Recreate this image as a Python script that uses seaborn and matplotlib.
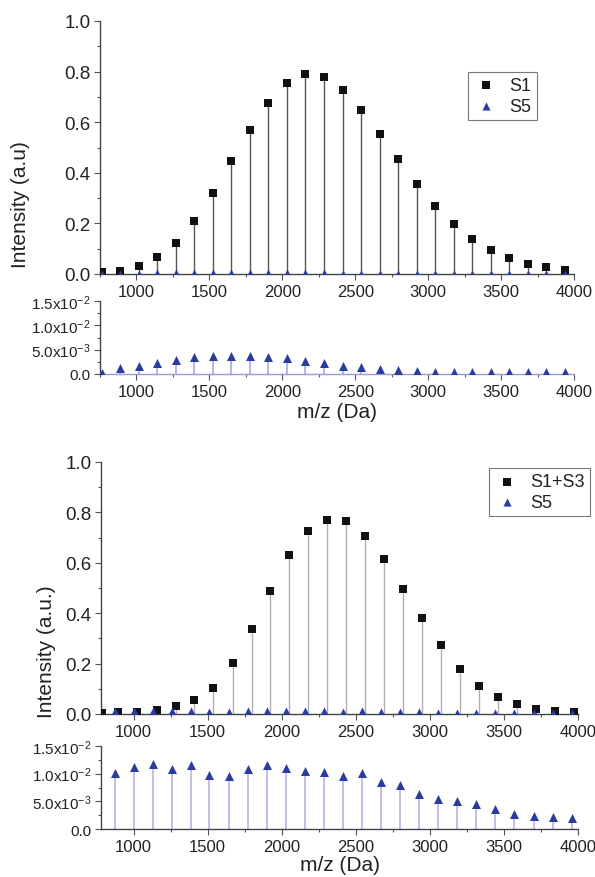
import matplotlib
matplotlib.use("Agg")
import matplotlib.pyplot as plt
import seaborn as sns
from matplotlib.ticker import MultipleLocator, AutoMinorLocator, FixedLocator, FixedFormatter

# panel (a): S1 vs S5
mz_a = [762, 889, 1016, 1143, 1270, 1397, 1524, 1651, 1778, 1905, 2032, 2159, 2286,
        2413, 2540, 2667, 2794, 2921, 3048, 3175, 3302, 3429, 3556, 3683, 3810, 3937]
s1 = [0.007, 0.013, 0.030, 0.066, 0.122, 0.210, 0.320, 0.445, 0.568, 0.676, 0.754, 0.789, 0.779,
      0.729, 0.650, 0.555, 0.454, 0.357, 0.270, 0.196, 0.138, 0.095, 0.063, 0.041, 0.026, 0.017]
s5_a = [0.0003, 0.0012, 0.0016, 0.0022, 0.0029, 0.0034, 0.0036, 0.0038, 0.0037, 0.0035, 0.0032,
        0.0027, 0.0023, 0.0017, 0.0014, 0.0010, 0.0008, 0.0006, 0.0005, 0.0004, 0.0004, 0.0004,
        0.0004, 0.0004, 0.0004, 0.0004]

# panel (b): S1+S3 vs S5
mz_b_sq = [790, 892, 1020, 1155, 1283, 1411, 1539, 1668, 1796, 1924, 2052, 2180, 2308,
           2436, 2564, 2693, 2821, 2949, 3077, 3205, 3333, 3461, 3589, 3717, 3845, 3974]
s13 = [0.004, 0.007, 0.009, 0.017, 0.030, 0.056, 0.105, 0.201, 0.338, 0.490, 0.629, 0.728, 0.771,
       0.766, 0.706, 0.614, 0.495, 0.379, 0.274, 0.179, 0.113, 0.066, 0.038, 0.020, 0.011, 0.007]
mz_b_tri = [872, 1000, 1128, 1256, 1389, 1512, 1645, 1769, 1902, 2032, 2160, 2288, 2416,
            2544, 2672, 2800, 2929, 3057, 3185, 3313, 3441, 3569, 3702, 3832, 3958]
s5_b = [0.0101, 0.0112, 0.0117, 0.0108, 0.0116, 0.0098, 0.0096, 0.0108, 0.0115, 0.0110, 0.0104,
        0.0103, 0.0095, 0.0101, 0.0085, 0.0079, 0.0063, 0.0054, 0.0050, 0.0046, 0.0037, 0.0027,
        0.0023, 0.0022, 0.0020]

inset_ticks = [0, 0.005, 0.010, 0.015]
inset_labels = ["0.0", r"5.0x10$^{-3}$", r"1.0x10$^{-2}$", r"1.5x10$^{-2}$"]

sns.set_style("ticks")
plt.rcParams["font.family"] = ["Liberation Sans", "DejaVu Sans"]
plt.rcParams["mathtext.fontset"] = "custom"
plt.rcParams["mathtext.rm"] = "Liberation Sans"
plt.rcParams["mathtext.it"] = "Liberation Sans"

BLACK = "#111111"
BLUE = "#2b3c9e"
TXT = "#222222"

fig = plt.figure(figsize=(5.95, 8.78), dpi=100)


def style_ax(ax, xmin, ysize, spine_col="#444444"):
    for s in ["top", "right"]:
        ax.spines[s].set_visible(False)
    for s in ["left", "bottom"]:
        ax.spines[s].set_color(spine_col)
        ax.spines[s].set_linewidth(1.0)
    ax.set_xlim(xmin, 4000)
    ax.xaxis.set_major_locator(MultipleLocator(500))
    ax.xaxis.set_minor_locator(MultipleLocator(250))
    ax.tick_params(which="major", length=4, width=0.8, color="#555555",
                   labelcolor=TXT, pad=3)
    ax.tick_params(axis="x", labelsize=12)
    ax.tick_params(axis="y", labelsize=ysize)
    ax.tick_params(which="minor", length=2.5, width=0.8, color="#555555")
    ax.set_xticks([1000, 1500, 2000, 2500, 3000, 3500, 4000])
    ax.set_xlabel("")
    ax.set_ylabel("")


def main_panel(rect, xmin, x_sq, y_sq, x_tri, y_tri, lab, ylab, stem_col, leg_pos, ylab_pos):
    ax = fig.add_axes(rect)
    ax.vlines(x_sq, 0, y_sq, color=stem_col, lw=1.0, zorder=1)
    sns.scatterplot(x=x_sq, y=y_sq, marker="s", color=BLACK, s=26, linewidth=0,
                    ax=ax, label=lab, zorder=3)
    sns.scatterplot(x=x_tri, y=y_tri, marker="^", color=BLUE, s=34, linewidth=0,
                    ax=ax, label="S5", zorder=3)
    style_ax(ax, xmin, 13.5)
    ax.set_ylim(0, 1.0)
    ax.yaxis.set_major_locator(MultipleLocator(0.2))
    ax.yaxis.set_minor_locator(MultipleLocator(0.1))
    ax.set_ylabel(ylab, fontsize=15, color=TXT)
    ax.yaxis.set_label_coords(*ylab_pos)
    leg = ax.legend(loc="upper left", bbox_to_anchor=leg_pos, frameon=True, fancybox=False,
                    fontsize=13, handletextpad=0.6, borderpad=0.3, labelspacing=0.2,
                    borderaxespad=0, markerscale=1.0, handlelength=1.4)
    leg.get_frame().set_edgecolor("#555555")
    leg.get_frame().set_linewidth(0.8)
    for t in leg.get_texts():
        t.set_color(TXT)
    return ax


def inset_panel(rect, xmin, x_tri, y_tri, stem_col, axis_col, xlab_pad):
    ax = fig.add_axes(rect)
    ax.vlines(x_tri, 0, y_tri, color=stem_col, lw=1.2, zorder=1)
    sns.scatterplot(x=x_tri, y=y_tri, marker="^", color=BLUE, s=42, linewidth=0,
                    ax=ax, zorder=3, legend=False)
    style_ax(ax, xmin, 11)
    ax.spines["bottom"].set_color(axis_col)
    ax.set_ylim(0, 0.015)
    ax.yaxis.set_major_locator(FixedLocator(inset_ticks))
    ax.yaxis.set_major_formatter(FixedFormatter(inset_labels))
    ax.yaxis.set_minor_locator(AutoMinorLocator(2))
    ax.set_xlabel("m/z (Da)", fontsize=15, color=TXT, labelpad=xlab_pad)
    return ax


# top figure
main_panel([100 / 595, 1 - 275 / 878, 474 / 595, 253 / 878], 750,
           mz_a, s1, mz_a, s5_a, "S1", "Intensity (a.u)", "#555555", (0.776, 0.80),
           (-0.148, 0.28))
inset_panel([100 / 595, 1 - 375 / 878, 474 / 595, 73 / 878], 750,
            mz_a, s5_a, "#a8a8e6", "#9a9ad8", 2)

# bottom figure
main_panel([101 / 595, 1 - 715 / 878, 477 / 595, 252 / 878], 780,
           mz_b_sq, s13, mz_b_tri, s5_b, "S1+S3", "Intensity (a.u.)",
           "#b0b0b0", (0.813, 0.976), (-0.095, 0.25))
inset_panel([101 / 595, 1 - 830 / 878, 477 / 595, 83 / 878], 780,
            mz_b_tri, s5_b, "#b4b4e6", "#444444", 1)

fig.savefig("out.png", dpi=100)
